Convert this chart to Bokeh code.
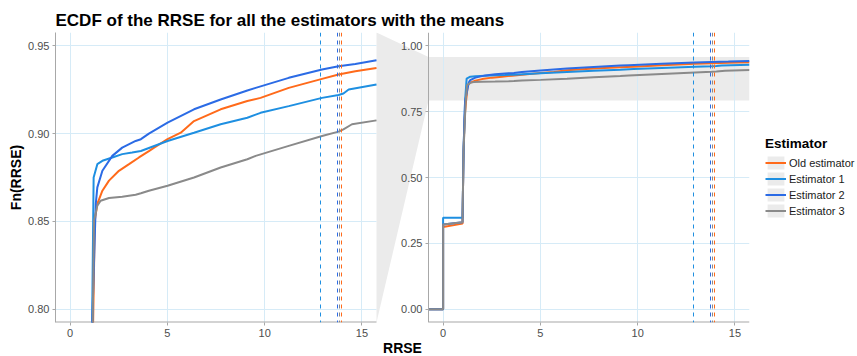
import math
from bokeh.plotting import figure
from bokeh.models import (Legend, LegendItem, Grid, LinearAxis, FixedTicker,
                          NumeralTickFormatter, Range1d)
from bokeh.embed import file_html
from bokeh.resources import INLINE

# ---------------- data ----------------
title_text = "ECDF of the RRSE for all the estimators with the means"
estimators = ["Old estimator", "Estimator 1", "Estimator 2", "Estimator 3"]
colors = ["#FF6A1A", "#1E8FE1", "#2B6BE5", "#8A8A8A"]

old_x = [-0.75, 0, 0, 1.0, 1.04, 1.10, 1.18, 1.27, 1.40, 1.66, 2.0, 2.51, 3.03, 3.54, 4.05,
         4.32, 5.01, 5.69, 6.37, 7.74, 9.11, 9.79, 11.24, 12.95, 13.80, 14.66, 15.75]
old_f = [0, 0, 0.312, 0.325, 0.55, 0.72, 0.79, 0.8505, 0.860, 0.8675, 0.8732, 0.8788, 0.8826,
         0.8864, 0.890, 0.892, 0.8968, 0.9005, 0.9071, 0.9138, 0.9185, 0.9203, 0.926, 0.9311,
         0.9336, 0.9354, 0.9373]

est1_x = [-0.75, 0, 0, 1.0, 1.05, 1.13, 1.21, 1.40, 1.66, 2.17, 2.68, 3.19, 3.64, 3.88, 5.01,
          6.37, 7.74, 9.11, 9.79, 11.24, 12.95, 13.80, 14.05, 14.32, 15.75]
est1_f = [0, 0, 0.347, 0.347, 0.60, 0.79, 0.875, 0.8826, 0.8845, 0.8864, 0.8883, 0.8892,
          0.8901, 0.8911, 0.8958, 0.9005, 0.9053, 0.909, 0.9118, 0.9156, 0.9203, 0.9219,
          0.9228, 0.9251, 0.9279]

est2_x = [-0.75, 0, 0, 1.0, 1.05, 1.13, 1.32, 1.40, 1.66, 2.17, 2.68, 3.37, 3.64, 4.05, 5.01,
          6.37, 7.74, 9.11, 9.54, 11.24, 12.95, 13.80, 14.66, 15.75]
est2_f = [0, 0, 0.322, 0.330, 0.60, 0.79, 0.860, 0.8694, 0.8788, 0.8873, 0.892, 0.8958,
          0.8968, 0.900, 0.9062, 0.9138, 0.9194, 0.9245, 0.926, 0.9317, 0.9364, 0.9383,
          0.9396, 0.9417]

est3_x = [-0.75, 0, 0, 1.0, 1.05, 1.16, 1.23, 1.40, 1.57, 2.0, 2.68, 3.37, 3.64, 4.05, 5.01,
          6.37, 7.74, 9.11, 9.54, 11.24, 12.95, 13.80, 14.05, 14.49, 15.75]
est3_f = [0, 0, 0.322, 0.330, 0.60, 0.79, 0.8505, 0.859, 0.8618, 0.8633, 0.8641, 0.8652,
          0.8660, 0.8675, 0.8703, 0.875, 0.8807, 0.8854, 0.8873, 0.893, 0.8986, 0.9011,
          0.9024, 0.9053, 0.9075]

means = [13.97, 12.85, 13.75, 13.86]

x_ticks = [0, 5, 10, 15]
zoom_ticks = [0.80, 0.85, 0.90, 0.95]
full_ticks = [0.00, 0.25, 0.50, 0.75, 1.00]
x_lim = (0, 15)
zoom_lim = (0.80, 0.95)
full_lim = (0, 1)

series_x = [old_x, est1_x, est2_x, est3_x]
series_f = [old_f, est1_f, est2_f, est3_f]

# ---------------- geometry ----------------
FONT = "Liberation Sans"


def expand(lim, k=0.05):
    d = (lim[1] - lim[0]) * k
    return (lim[0] - d, lim[1] + d)


xr = expand(x_lim)
zr = expand(zoom_lim)
fr = expand(full_lim)

PANEL_W, PANEL_H = 321, 290
GAP = 52
FRAME_W = 2 * PANEL_W + GAP
px_x = PANEL_W / (xr[1] - xr[0])
shift = (PANEL_W + GAP) / px_x          # offset of the full panel, in zoomed-panel x units

p = figure(width=857, height=356, frame_width=FRAME_W, frame_height=PANEL_H,
           x_range=Range1d(xr[0], xr[0] + FRAME_W / px_x), y_range=Range1d(*zr),
           min_border_left=55, min_border_right=0, min_border_top=32, min_border_bottom=34,
           toolbar_location=None, output_backend="svg", title=title_text)
p.extra_x_ranges = {"full_x": Range1d(xr[0] - shift, xr[1])}
p.extra_y_ranges = {"full_y": Range1d(*fr)}
p.outline_line_color = None

p.title.text_font = FONT
p.title.text_font_size = "17px"
p.title.text_font_style = "bold"
p.title.text_color = "black"
p.title.align = "left"
p.title.offset = 0
p.title.standoff = 5

AX_C = "#a8a8a8"


def style_axis(ax):
    ax.axis_line_color = AX_C
    ax.major_tick_line_color = AX_C
    ax.major_tick_out = 3
    ax.major_tick_in = 0
    ax.minor_tick_line_color = None
    ax.major_label_text_font = FONT
    ax.major_label_text_font_size = "11px"
    ax.major_label_text_color = "#4d4d4d"
    ax.major_label_standoff = 3


GRID_C = "#d6ebf7"

# ---- shared bottom axis: ticks of both panels ----
right_tick_pos = [t + shift for t in x_ticks]
xa = p.xaxis[0]
style_axis(xa)
xa.ticker = FixedTicker(ticks=x_ticks + right_tick_pos)
xa.formatter = NumeralTickFormatter(format="0")
xa.major_label_overrides = {pos: str(t) for pos, t in zip(right_tick_pos, x_ticks)}
xa.axis_line_color = None
xa.axis_label = "RRSE"
xa.axis_label_text_font = FONT
xa.axis_label_text_font_size = "14px"
xa.axis_label_text_font_style = "bold"
xa.axis_label_text_color = "black"
xa.axis_label_standoff = 0

# ---- zoomed (left) panel y axis & grid ----
ya = p.yaxis[0]
style_axis(ya)
ya.ticker = FixedTicker(ticks=zoom_ticks)
ya.formatter = NumeralTickFormatter(format="0.00")
ya.axis_label = "Fn(RRSE)"
ya.axis_label_text_font = FONT
ya.axis_label_text_font_size = "14px"
ya.axis_label_text_font_style = "bold"
ya.axis_label_text_color = "black"
ya.axis_label_standoff = 1

p.xgrid.visible = False
p.ygrid.visible = False
p.add_layout(Grid(dimension=0, ticker=FixedTicker(ticks=x_ticks), grid_line_color=GRID_C))
p.add_layout(Grid(dimension=1, ticker=FixedTicker(ticks=zoom_ticks), cross_bounds=xr,
                  grid_line_color=GRID_C))

# ---- full (right) panel y axis & grid ----
ya2 = LinearAxis(y_range_name="full_y", x_range_name="full_x",
                 ticker=FixedTicker(ticks=full_ticks),
                 formatter=NumeralTickFormatter(format="0.00"), fixed_location=xr[0])
style_axis(ya2)
p.add_layout(ya2, "left")
p.add_layout(Grid(dimension=0, x_range_name="full_x", y_range_name="full_y",
                  ticker=FixedTicker(ticks=x_ticks), grid_line_color=GRID_C))
p.add_layout(Grid(dimension=1, x_range_name="full_x", y_range_name="full_y",
                  ticker=FixedTicker(ticks=full_ticks), cross_bounds=xr,
                  grid_line_color=GRID_C))

# ---- panel base lines (x axis lines of both panels) ----
p.segment(x0=[xr[0]], x1=[xr[1]], y0=[zr[0]], y1=[zr[0]], line_color=AX_C, line_width=2)
p.segment(x0=[xr[0]], x1=[xr[1]], y0=[fr[0]], y1=[fr[0]], line_color=AX_C, line_width=2,
          x_range_name="full_x", y_range_name="full_y")

# ---- zoom indicator: band in the full panel and connector to the zoomed panel ----
ZOOM_FILL = "#ebebeb"
band = p.quad(left=[xr[0]], right=[xr[1]], bottom=[zr[0]], top=[zr[1]],
              fill_color=ZOOM_FILL, line_color=None, level="underlay",
              x_range_name="full_x", y_range_name="full_y")
x_panel_edge = xr[0] - GAP / px_x
p.patch([x_panel_edge, xr[0], xr[0], x_panel_edge], [fr[1], zr[1], zr[0], fr[0]],
        fill_color=ZOOM_FILL, line_color=None, level="underlay",
        x_range_name="full_x", y_range_name="full_y")

# ---- curves ----
line_rs, key_rs = [], []
for xs, fs, c in zip(series_x, series_f, colors):
    p.line(xs, fs, line_color=c, line_width=2)
    line_rs.append(p.line(xs, fs, line_color=c, line_width=2,
                          x_range_name="full_x", y_range_name="full_y"))
for m, c in zip(means, colors):
    p.vspan(x=[m], line_color=c, line_width=1, line_dash="4 4")
    p.vspan(x=[m], line_color=c, line_width=1, line_dash="4 4",
            x_range_name="full_x", y_range_name="full_y")
    # legend key proxy for the mean line (zero size on the plot)
    key_rs.append(p.scatter(x=[m], y=[full_lim[0]], size=0, marker="dash", angle=math.pi / 2,
                            line_color=c, line_width=1, line_dash="dashed",
                            x_range_name="full_x", y_range_name="full_y"))

items = [LegendItem(label=n, renderers=[band, lr, kr])
         for n, lr, kr in zip(estimators, line_rs, key_rs)]
legend = Legend(items=items, title="Estimator", location="center_left",
                title_text_font=FONT, title_text_font_size="13.5px", title_text_font_style="bold",
                title_text_color="black",
                label_text_font=FONT, label_text_font_size="11px", label_text_color="#1a1a1a",
                glyph_width=21, glyph_height=16, spacing=0, label_standoff=3,
                label_height=16, label_width=10, padding=8, margin=16, border_line_color=None,
                background_fill_alpha=0, title_standoff=4)
p.add_layout(legend, "right")

open("out.html", "w").write(file_html(p, INLINE))
